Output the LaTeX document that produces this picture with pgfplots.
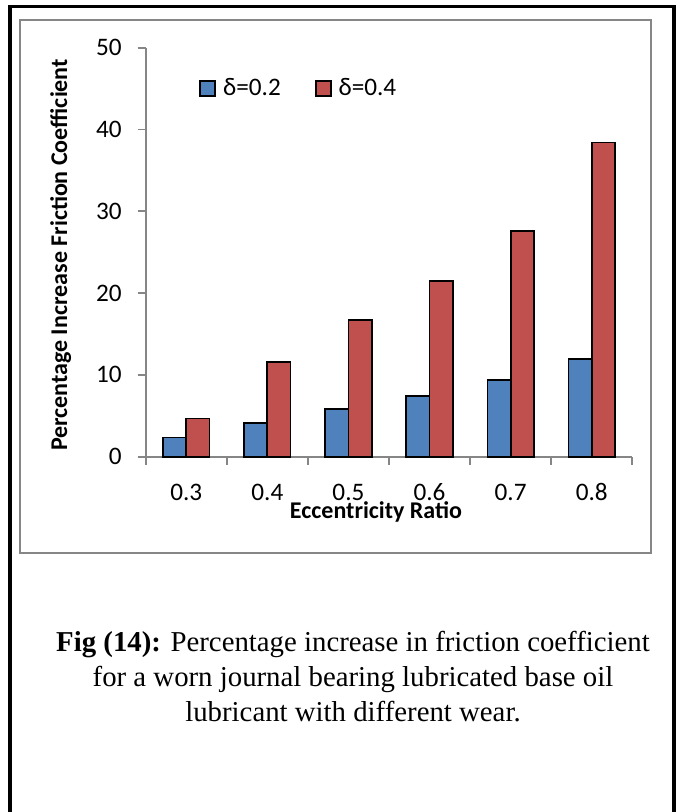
\documentclass[border=0pt]{standalone}
\usepackage{pgfplots}
\pgfplotsset{compat=1.18}
\usepackage{fontspec}
\setmainfont{Carlito}
\newfontfamily\capfont{Liberation Serif}
\definecolor{barblue}{HTML}{4F81BD}
\definecolor{barred}{HTML}{C0504D}
\definecolor{axgray}{HTML}{868686}
\pgfplotsset{mylegend/.style={legend image code/.code={\draw[##1] (0pt,-3.75pt) rectangle (7.5pt,3.75pt);}}}
\begin{document}
\begin{tikzpicture}
\useasboundingbox (0,0) rectangle (343pt,406pt);
\draw[line width=1.6pt] (5pt,0) -- (5pt,402.75pt) -- (337pt,402.75pt) -- (337pt,0);
\draw[axgray, line width=1pt] (10pt,129.5pt) rectangle (325.5pt,396pt);
\begin{axis}[
  at={(72.85pt,177.65pt)}, anchor=south west,
  scale only axis, width=243.3pt, height=204.5pt,
  xmin=-0.5, xmax=5.5, ymin=0, ymax=50,
  ybar=0pt, bar width=11.6pt,
  axis lines*=left,
  axis line style={axgray, line width=0.9pt},
  xtick={0,...,5}, xticklabels={0.3,0.4,0.5,0.6,0.7,0.8},
  minor xtick={-0.5,0.5,...,5.5},
  ytick={0,10,...,50},
  tick align=outside,
  major tick length=4pt, minor tick length=4pt,
  tick style={axgray, line width=0.9pt},
  major x tick style={draw=none},
  enlargelimits=false,
  clip=false,
  ticklabel style={font=\fontsize{12.6pt}{14pt}\selectfont},
  /pgf/number format/assume math mode=true,
  xticklabel style={anchor=base, inner sep=0pt, yshift=-18pt},
  yticklabel style={anchor=east, inner sep=0pt, xshift=-7.85pt},
  xlabel={Eccentricity Ratio},
  ylabel={Percentage Increase Friction Coefficient},
  label style={font=\fontsize{12pt}{14pt}\selectfont\bfseries, inner sep=0pt},
  ylabel style={at={(axis description cs:-0.1617,0.4932)}, anchor=base},
  xlabel style={at={(axis description cs:0.4733,-0.1506)}, anchor=base},
  legend columns=2,
  legend cell align=left,
  legend style={at={(axis description cs:0.1095,0.8998)}, anchor=west,
    draw=none, fill=none, inner sep=0pt,
    font=\fontsize{12.6pt}{14pt}\selectfont,
    nodes={inner sep=0pt},
    /tikz/every odd column/.append style={column sep=3.5pt},
    /tikz/every even column/.append style={column sep=17pt}},
]
\addplot[fill=barblue, draw=black, line width=0.9pt, mylegend]
  coordinates {(0,2.35) (1,4.1) (2,5.82) (3,7.38) (4,9.39) (5,11.93)};
\addlegendentry{δ=0.2}
\addplot[fill=barred, draw=black, line width=0.9pt, mylegend]
  coordinates {(0,4.67) (1,11.55) (2,16.72) (3,21.5) (4,27.6) (5,38.4)};
\addlegendentry{δ=0.4}
\end{axis}
\node[anchor=base, font=\capfont\fontsize{14.4pt}{17.4pt}\selectfont] at (176.5pt,80pt) {\textbf{Fig (14):} Percentage increase in friction coefficient};
\node[anchor=base, font=\capfont\fontsize{14.4pt}{17.4pt}\selectfont] at (176.5pt,62.5pt) {for a worn journal bearing lubricated base oil};
\node[anchor=base, font=\capfont\fontsize{14.4pt}{17.4pt}\selectfont] at (176.5pt,45.15pt) {lubricant with different wear.};
\end{tikzpicture}
\end{document}
